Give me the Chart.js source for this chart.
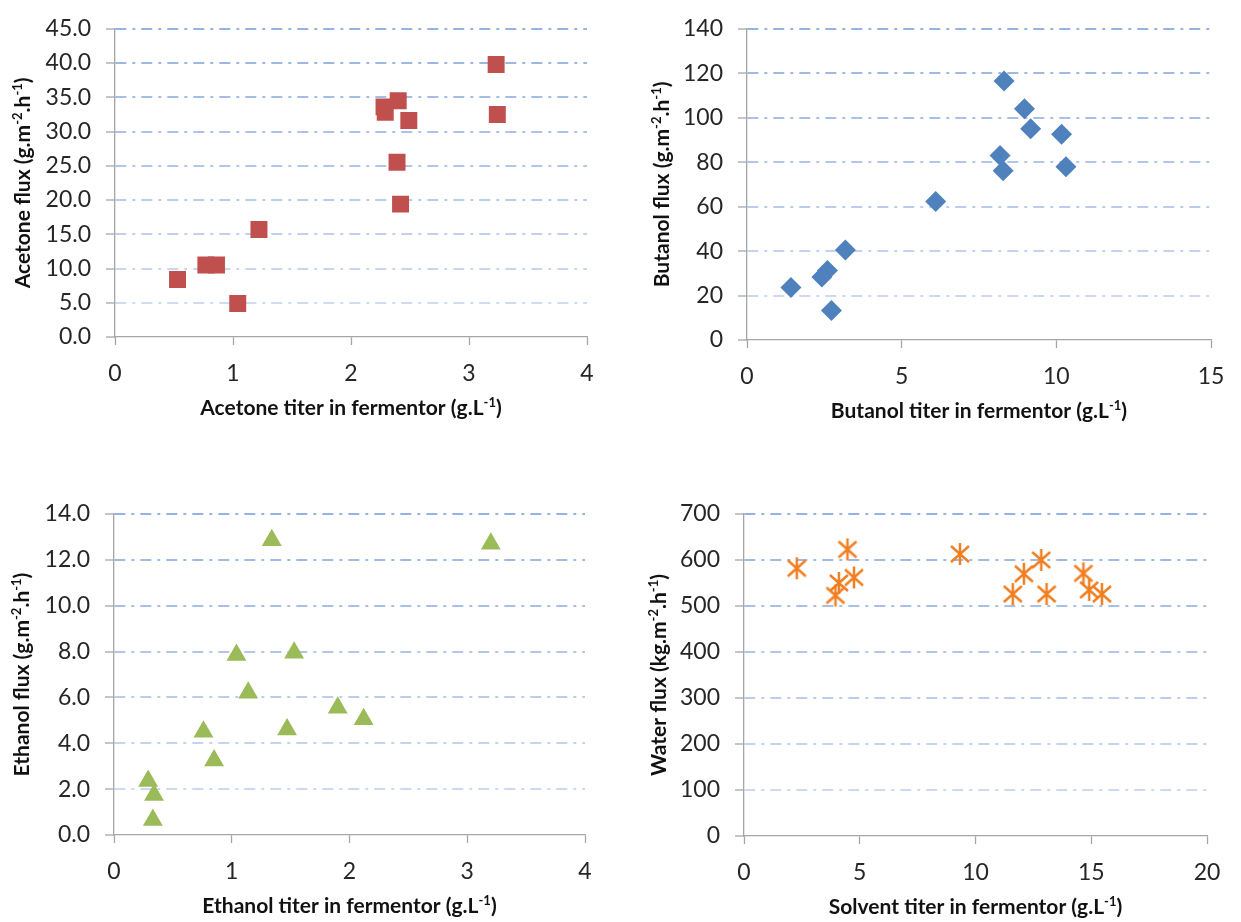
<!DOCTYPE html>
<html>
<head>
<meta charset="utf-8">
<script src="https://cdn.jsdelivr.net/npm/chart.js@4.4.0/dist/chart.umd.min.js"></script>
<style>
  html, body { margin: 0; padding: 0; background: #fff; }
  #page { position: relative; width: 1241px; height: 922px; }
  canvas { position: absolute; }
</style>
</head>
<body>
<div id="page">
  <canvas id="c1" width="620" height="461" style="left:0;top:0"></canvas>
  <canvas id="c2" width="621" height="461" style="left:620px;top:0"></canvas>
  <canvas id="c3" width="620" height="461" style="left:0;top:461px"></canvas>
  <canvas id="c4" width="621" height="461" style="left:620px;top:461px"></canvas>
</div>
<script>
// acetone
const acetoneTiter = [0.53, 0.77, 0.86, 1.04, 1.22, 2.28, 2.29, 2.40, 2.49, 2.39, 2.42, 3.23, 3.24];
const acetoneFlux  = [8.4, 10.5, 10.5, 4.9, 15.7, 33.6, 32.8, 34.5, 31.6, 25.5, 19.4, 39.8, 32.5];
// butanol
const butanolTiter = [1.42, 2.42, 2.60, 2.73, 3.18, 6.10, 8.18, 8.28, 8.31, 8.97, 9.17, 10.17, 10.31];
const butanolFlux  = [23.6, 28.3, 31.3, 13.3, 40.5, 62.3, 83, 76.1, 116.5, 104, 95, 92.6, 77.9];
// ethanol
const ethanolTiter = [1.34, 3.20, 1.04, 1.53, 1.14, 1.90, 2.12, 0.76, 1.47, 0.85, 0.29, 0.34, 0.33];
const ethanolFlux  = [12.85, 12.7, 7.85, 7.95, 6.2, 5.55, 5.05, 4.5, 4.6, 3.25, 2.35, 1.75, 0.65];
// water vs total solvent
const solventTiter = [2.28, 3.95, 4.10, 4.47, 4.75, 9.33, 11.61, 12.09, 12.84, 13.07, 14.66, 14.91, 15.46];
const waterFlux    = [582, 523, 550, 623, 562, 613, 526, 570, 600, 526, 571, 535, 526];

const xTitles = [
  'Acetone titer in fermentor (g.L^{-1})',
  'Butanol titer in fermentor (g.L^{-1})',
  'Ethanol titer in fermentor (g.L^{-1})',
  'Solvent titer in fermentor (g.L^{-1})'
];
const yTitles = [
  'Acetone flux (g.m^{-2}.h^{-1})',
  'Butanol flux (g.m^{-2}.h^{-1})',
  'Ethanol flux (g.m^{-2}.h^{-1})',
  'Water flux (kg.m^{-2}.h^{-1})'
];

const AXIS = '#a6a6a6';
const TICK_FONT = { family: 'Lato', size: 23 };

function pts(xs, ys) {
  return xs.map((x, i) => ({ x: x, y: ys[i] }));
}

// excel-like asterisk marker
function asterisk(color) {
  const c = document.createElement('canvas');
  c.width = 24; c.height = 24;
  const g = c.getContext('2d');
  g.strokeStyle = color;
  g.lineWidth = 2.5;
  g.beginPath();
  g.moveTo(12, 1); g.lineTo(12, 23);
  g.moveTo(3, 4); g.lineTo(21, 20);
  g.moveTo(21, 4); g.lineTo(3, 20);
  g.stroke();
  return c;
}

function drawRich(ctx, text, x0, y) {
  const parts = text.split(/\^\{([^}]*)\}/);
  const big = 'bold 21px Lato', small = 'bold 13px Lato';
  let w = 0;
  parts.forEach((p, i) => { ctx.font = i % 2 ? small : big; w += ctx.measureText(p).width; });
  let x = x0 - w / 2;
  ctx.textAlign = 'left';
  ctx.textBaseline = 'alphabetic';
  ctx.fillStyle = '#111';
  parts.forEach((p, i) => {
    ctx.font = i % 2 ? small : big;
    ctx.fillText(p, x, y + (i % 2 ? -8 : 0));
    x += ctx.measureText(p).width;
  });
}

const richTitles = {
  id: 'richTitles',
  afterDraw(chart, args, o) {
    const a = chart.chartArea, ctx = chart.ctx;
    ctx.save();
    drawRich(ctx, o.x, (a.left + a.right) / 2, a.bottom + o.xGap);
    ctx.translate(a.left - o.yGap, (a.top + a.bottom) / 2);
    ctx.rotate(-Math.PI / 2);
    drawRich(ctx, o.y, 0, 0);
    ctx.restore();
  }
};

// grid gets lighter towards the bottom
function gridColor(ctx) {
  const sc = ctx.scale;
  const v = ctx.tick ? ctx.tick.value : 0;
  if (v === 0) return 'rgba(0,0,0,0)';
  const f = v / sc.max;
  const lo = [214, 224, 243], hi = [150, 178, 226];
  const c = lo.map((l, i) => Math.round(l + (hi[i] - l) * f));
  return 'rgb(' + c.join(',') + ')';
}

function makeChart(id, o) {
  return new Chart(document.getElementById(id), {
    type: 'scatter',
    data: {
      datasets: [{
        data: o.data,
        pointStyle: o.style,
        pointRadius: o.radius,
        pointHoverRadius: o.radius,
        backgroundColor: o.color,
        borderColor: o.color,
        borderWidth: 0
      }]
    },
    options: {
      responsive: false,
      animation: false,
      devicePixelRatio: 1,
      layout: { padding: o.pad },
      plugins: {
        legend: { display: false },
        tooltip: { enabled: false },
        richTitles: { x: o.xTitle, y: o.yTitle, xGap: 78, yGap: o.yGap }
      },
      scales: {
        x: {
          type: 'linear',
          min: 0, max: o.xMax,
          afterFit(s) { s.height = 60; },
          ticks: { stepSize: o.xStep, font: TICK_FONT, color: '#262626', padding: 15, maxRotation: 0 },
          grid: { drawOnChartArea: false, drawTicks: true, tickLength: 8, tickColor: AXIS, tickWidth: 1.3 },
          border: { color: AXIS, width: 1.3 }
        },
        y: {
          type: 'linear',
          min: 0, max: o.yMax,
          afterFit(s) { s.width = o.pad.yw; },
          ticks: {
            stepSize: o.yStep, font: TICK_FONT, color: '#262626', padding: 15,
            callback: v => v.toFixed(o.dec)
          },
          grid: { color: gridColor, lineWidth: 2, tickLength: 9, tickColor: AXIS, tickWidth: 1.3 },
          border: { color: AXIS, width: 1.3, dash: [11, 6, 3, 6] }
        }
      }
    },
    plugins: [richTitles]
  });
}

makeChart('c1', {
  data: pts(acetoneTiter, acetoneFlux), style: 'rect', radius: 12, color: '#c0504d',
  xMax: 4, xStep: 1, yMax: 45, yStep: 5, dec: 1,
  xTitle: xTitles[0], yTitle: yTitles[0], yGap: 85,
  pad: { left: 0, top: 18, right: 33, bottom: 64, yw: 115 }
});
makeChart('c2', {
  data: pts(butanolTiter, butanolFlux), style: 'rectRot', radius: 10.5, color: '#4f81bd',
  xMax: 15, xStep: 5, yMax: 140, yStep: 20, dec: 0,
  xTitle: xTitles[1], yTitle: yTitles[1], yGap: 78,
  pad: { left: 0, top: 19, right: 30, bottom: 61, yw: 127 }
});
makeChart('c3', {
  data: pts(ethanolTiter, ethanolFlux), style: 'triangle', radius: 11.5, color: '#9bbb59',
  xMax: 4, xStep: 1, yMax: 14, yStep: 2, dec: 1,
  xTitle: xTitles[2], yTitle: yTitles[2], yGap: 85,
  pad: { left: 0, top: 53, right: 35, bottom: 27, yw: 114 }
});
makeChart('c4', {
  data: pts(solventTiter, waterFlux), style: asterisk('#f07f22'), radius: 11, color: '#f07f22',
  xMax: 20, xStep: 5, yMax: 700, yStep: 100, dec: 0,
  xTitle: xTitles[3], yTitle: yTitles[3], yGap: 78,
  pad: { left: 0, top: 53, right: 34, bottom: 26, yw: 124 }
});
</script>
</body>
</html>
